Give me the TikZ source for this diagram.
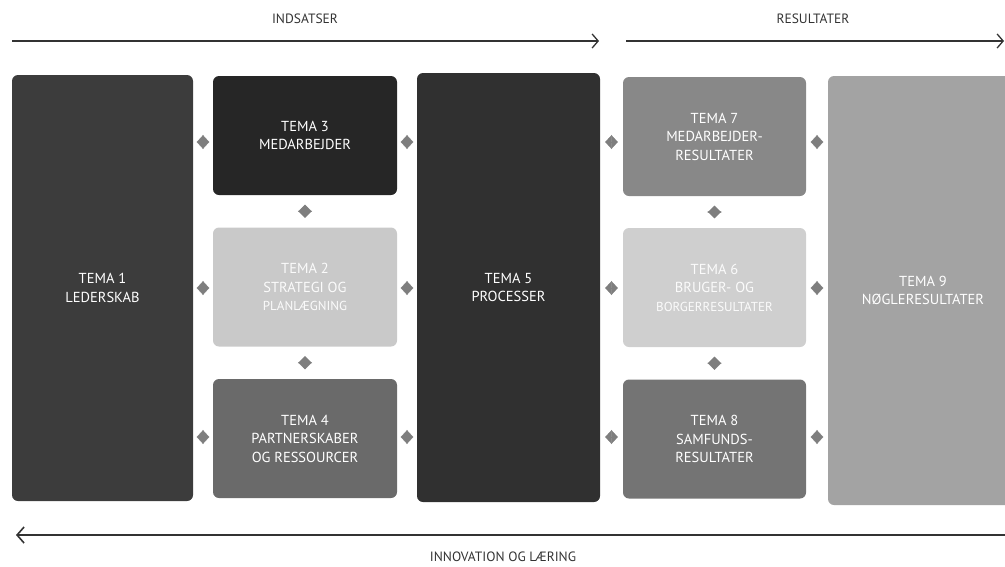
\documentclass[tikz,border=0pt]{standalone}
\usepackage{fontspec}
\setmainfont{PT Sans}
\usetikzlibrary{arrows.meta}
\definecolor{cA}{HTML}{3C3C3C}
\definecolor{cB}{HTML}{262626}
\definecolor{cC}{HTML}{C9C9C9}
\definecolor{cD}{HTML}{6A6A6A}
\definecolor{cE}{HTML}{303030}
\definecolor{cF}{HTML}{888888}
\definecolor{cG}{HTML}{CFCFCF}
\definecolor{cH}{HTML}{747474}
\definecolor{cI}{HTML}{A3A3A3}
\definecolor{dia}{HTML}{7E7E7E}
\definecolor{lineC}{HTML}{333333}
\begin{document}
\begin{tikzpicture}[x=1pt,y=-1pt,
  box/.style={rounded corners=6pt, inner sep=0pt, align=center, text=white,
    font=\fontsize{14.5}{18.5}\selectfont},
  tall/.style={box, minimum width=181pt, minimum height=426pt},
  small/.style={box, minimum width=184pt, minimum height=119pt},
  hconn/.style={dia, {Triangle[length=6.5pt,width=14pt]}-{Triangle[length=6.5pt,width=14pt]}},
  vconn/.style={dia, {Triangle[length=7pt,width=14pt]}-{Triangle[length=7pt,width=14pt]}, shorten <=9.5pt, shorten >=9.5pt},
  toparrow/.style={lineC, line width=1.3pt, -{Straight Barb[length=6pt,width=14pt,line width=1.3pt]}},
  botarrow/.style={lineC, line width=2.2pt, -{Straight Barb[length=7pt,width=16pt,line width=1.6pt]}},
  lbl/.style={text=lineC, font=\fontsize{13.5}{15}\selectfont}]
\useasboundingbox (0,0) rectangle (1005,566);

% boxes
\node[tall, fill=cA] (t1) at (102.5,288) {TEMA 1\\LEDERSKAB};
\node[small, fill=cB] (t3) at (305,135.5) {TEMA 3\\MEDARBEJDER};
\node[small, fill=cC, text=white!92!cC] (t2) at (305,287) {TEMA 2\\STRATEGI OG\\{\fontsize{13}{18.5}\selectfont PLANLÆGNING}};
\node[small, fill=cD] (t4) at (305,438.5) {TEMA 4\\PARTNERSKABER\\OG RESSOURCER};
\node[tall, fill=cE, minimum height=429pt, minimum width=183pt] (t5) at (508.5,287.5) {TEMA 5\\PROCESSER};
\node[small, fill=cF, minimum width=183pt] (t7) at (714.5,136.5) {TEMA 7\\MEDARBEJDER-\\RESULTATER};
\node[small, fill=cG, minimum width=183pt, text=white!92!cG] (t6) at (714.5,287.5) {TEMA 6\\BRUGER- OG\\{\fontsize{13}{18.5}\selectfont BORGERRESULTATER}};
\node[small, fill=cH, minimum width=183pt] (t8) at (714.5,439) {TEMA 8\\SAMFUNDS-\\RESULTATER};
\node[tall, fill=cI, minimum width=190pt, minimum height=429pt] (t9) at (923,290.5) {TEMA 9\\NØGLERESULTATER};

% horizontal connectors
\foreach \yy/\m in {142/t3, 288/t2, 437/t4} {
  \draw[hconn, shorten <=3.5pt, shorten >=3.5pt] (t1.east |- 0,\yy) -- (\m.west |- 0,\yy);
  \draw[hconn, shorten <=3.5pt, shorten >=3.5pt] (\m.east |- 0,\yy) -- (t5.west |- 0,\yy);
}
\foreach \yy/\m in {142/t7, 288/t6, 437/t8} {
  \draw[hconn, shorten <=5pt, shorten >=5pt] (t5.east |- 0,\yy) -- (\m.west |- 0,\yy);
  \draw[hconn, shorten <=4.5pt, shorten >=4.5pt] (\m.east |- 0,\yy) -- (t9.west |- 0,\yy);
}
% vertical connectors
\draw[vconn] (t3.south) -- (t2.north);
\draw[vconn] (t2.south) -- (t4.north);
\draw[vconn] (t7.south) -- (t6.north);
\draw[vconn] (t6.south) -- (t8.north);

% top arrows
\coordinate (a1) at (12,41);
\coordinate (a2) at (599,41);
\coordinate (a3) at (626,41);
\coordinate (a4) at (1004,41);
\draw[toparrow] (a1) -- (a2);
\draw[toparrow] (a3) -- (a4);
\node[lbl] (l1) at (305,19) {INDSATSER};
\node[lbl] (l2) at (813,19) {RESULTATER};

% bottom arrow
\coordinate (b1) at (1005,535);
\coordinate (b2) at (16,535);
\draw[botarrow] (b1) -- (b2);
\node[lbl] (l3) at (503,557) {INNOVATION OG LÆRING};
\end{tikzpicture}
\end{document}
